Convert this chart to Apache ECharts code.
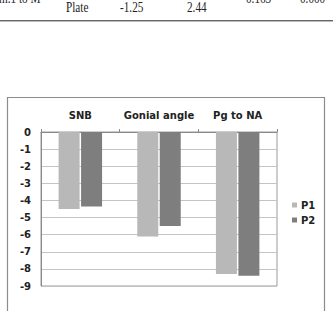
<!DOCTYPE html>
<html>
<head>
<meta charset="utf-8">
<script src="https://cdn.jsdelivr.net/npm/echarts@6/dist/echarts.min.js"></script>
<style>
html,body{margin:0;padding:0;background:#fff;width:333px;height:311px;overflow:hidden;}
#chart{position:absolute;left:0;top:0;width:333px;height:311px;}
.t{position:absolute;font-family:"Liberation Serif",serif;font-size:14px;line-height:14px;color:#222;white-space:nowrap;transform:scaleX(0.8);transform-origin:0 0;}
#rule{position:absolute;left:0;top:20px;width:333px;height:1px;background:#666;border-bottom:1px solid #bbb;}
</style>
</head>
<body>
<div id="chart"></div>
<div class="t" style="left:-1px;top:-8px;">m.1 to M</div>
<div class="t" style="left:246px;top:-8px;">0.163</div>
<div class="t" style="left:300px;top:-8px;">0.000</div>
<div class="t" style="left:66px;top:1px;">Plate</div>
<div class="t" style="left:120px;top:1px;">-1.25</div>
<div class="t" style="left:187px;top:1px;">2.44</div>
<div id="rule"></div>
<script>
const categories = ['SNB', 'Gonial angle', 'Pg to NA'];
const seriesNames = ['P1', 'P2'];
const p1Values = [-4.5, -6.1, -8.3];
const p2Values = [-4.35, -5.5, -8.4];
const yTicks = [0, -1, -2, -3, -4, -5, -6, -7, -8, -9];

const chart = echarts.init(document.getElementById('chart'), null, {renderer: 'svg'});
const font = 'DejaVu Sans';
chart.setOption({
  animation: false,
  backgroundColor: 'transparent',
  graphic: [{
    type: 'rect',
    shape: {x: 7.5, y: 97.5, width: 317, height: 240},
    style: {fill: 'none', stroke: '#8c8c8c', lineWidth: 1.2}
  }],
  grid: {left: 41, right: 56, top: 132, bottom: 25, show: true, borderColor: '#9a9a9a', borderWidth: 1},
  legend: {
    orient: 'vertical', left: 287, top: 195, itemWidth: 5, itemHeight: 5, itemGap: 5,
    icon: 'rect',
    data: seriesNames,
    textStyle: {fontFamily: font, fontWeight: 'bold', fontSize: 10, color: '#222', padding: [0, 0, 0, -1]}
  },
  xAxis: {
    type: 'category', position: 'top', data: categories,
    axisLine: {show: true, lineStyle: {color: '#8a8a8a', width: 1}},
    axisTick: {show: true, length: 3, lineStyle: {color: '#8a8a8a'}},
    axisLabel: {interval: 0, hideOverlap: false, margin: 12, fontFamily: font, fontWeight: 'bold', fontSize: 10, color: '#222'},
    splitLine: {show: false}
  },
  yAxis: {
    type: 'value', min: -9, max: 0, interval: 1,
    axisLine: {show: true, lineStyle: {color: '#8a8a8a'}},
    axisTick: {show: false},
    axisLabel: {margin: 10, fontFamily: font, fontWeight: 'bold', fontSize: 10, color: '#222',
      formatter: v => (yTicks.indexOf(v) >= 0 ? String(v) : '')},
    splitLine: {show: true, lineStyle: {color: '#c4c4c4', width: 1}}
  },
  series: [
    {name: seriesNames[0], type: 'bar', data: p1Values, barWidth: 21, barGap: '7%', itemStyle: {color: '#b8b8b8'}},
    {name: seriesNames[1], type: 'bar', data: p2Values, barWidth: 21, barGap: '7%', itemStyle: {color: '#7e7e7e'}}
  ]
});
</script>
</body>
</html>
